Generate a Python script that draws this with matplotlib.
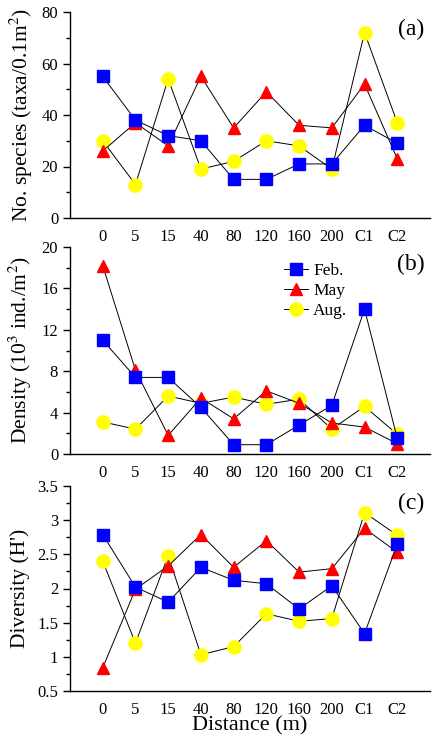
import numpy as np
import matplotlib.pyplot as plt

plt.rcParams['font.family'] = ['Liberation Serif', 'DejaVu Serif']
plt.rcParams['mathtext.fontset'] = 'stix'

# -----------------------
# Data
# -----------------------
sites = ["0", "5", "15", "40", "80", "120", "160", "200", "C1", "C2"]

species_feb = [55, 38, 32, 30, 15, 15, 21, 21, 36, 29]
species_may = [26, 37, 28, 55, 35, 49, 36, 35, 52, 23]
species_aug = [30, 13, 54, 19, 22, 30, 28, 19, 72, 37]

density_feb = [11.0, 7.4, 7.4, 4.5, 0.9, 0.9, 2.8, 4.7, 14.0, 1.5]
density_may = [18.2, 8.1, 1.8, 5.4, 3.4, 6.1, 4.9, 3.0, 2.6, 1.0]
density_aug = [3.1, 2.4, 5.6, 4.9, 5.5, 4.8, 5.3, 2.4, 4.6, 1.9]

diversity_feb = [2.79, 2.02, 1.80, 2.31, 2.12, 2.07, 1.70, 2.04, 1.34, 2.65]
diversity_may = [0.84, 1.99, 2.33, 2.79, 2.31, 2.70, 2.24, 2.29, 2.88, 2.53]
diversity_aug = [2.40, 1.20, 2.48, 1.03, 1.15, 1.63, 1.52, 1.56, 3.11, 2.78]

x = np.arange(len(sites))

fig = plt.figure(figsize=(4.46, 7.39), dpi=100)
W, H = 446, 739
left, right = 70 / W, 430 / W

def make_ax(top_px, bot_px):
    return fig.add_axes([left, 1 - bot_px / H, right - left, (bot_px - top_px) / H])

panels = [
    (make_ax(12, 218), species_feb, species_may, species_aug, (0, 80), 20,
     "No. species (taxa/0.1m$^2$)", "(a)"),
    (make_ax(247, 454), density_feb, density_may, density_aug, (0, 20), 4,
     "Density (10$^3$ ind./m$^2$)", "(b)"),
    (make_ax(486, 691), diversity_feb, diversity_may, diversity_aug, (0.5, 3.5), 0.5,
     "Diversity (H')", "(c)"),
]

for ax, feb, may, aug, ylim, step, ylab, tag in panels:
    ax.plot(x, aug, color='black', lw=0.7, marker='o', ms=9.5, mfc='#ffff00',
            mec='#ffff00', label='Aug.', zorder=2)
    ax.plot(x, may, color='black', lw=0.7, marker='^', ms=9, mfc='#ff0000',
            mec='#ff0000', label='May', zorder=3)
    ax.plot(x, feb, color='black', lw=0.7, marker='s', ms=9, mfc='#0000ff',
            mec='#0000ff', label='Feb.', zorder=4)
    ax.set_xlim(-1, 10)
    ax.set_ylim(*ylim)
    ax.set_yticks(np.arange(ylim[0], ylim[1] + step / 2, step))
    ax.set_yticks(np.arange(ylim[0] + step / 2, ylim[1], step), minor=True)
    if step == 0.5:
        ax.set_yticklabels(["0.5", "1", "1.5", "2", "2.5", "3", "3.5"])
    ax.set_xticks(x)
    ax.set_xticklabels(sites)
    ax.tick_params(axis='x', length=0, labelsize=12, pad=8)
    ax.tick_params(axis='y', which='major', length=5, width=1, labelsize=12, direction='out')
    ax.tick_params(axis='y', which='minor', length=3, width=1, direction='out')
    ax.spines['top'].set_visible(False)
    ax.spines['right'].set_visible(False)
    ax.spines['left'].set_linewidth(1)
    ax.spines['bottom'].set_linewidth(1)
    ax.set_ylabel(ylab, fontsize=15.5, labelpad=5)
    ax.text(0.985, 0.915, tag, transform=ax.transAxes, ha='right', va='center', fontsize=17)

# legend in panel (b)
ax_b = panels[1][0]
h, l = ax_b.get_legend_handles_labels()
ax_b.legend(h[::-1], l[::-1], loc='upper left', bbox_to_anchor=(0.56, 0.98),
            frameon=False, fontsize=12.5, handlelength=1.4, handletextpad=0.3,
            labelspacing=0.2, borderpad=0.2)

panels[2][0].set_xlabel("Distance (m)", fontsize=16, labelpad=-1)

fig.savefig("out.png", dpi=100)
